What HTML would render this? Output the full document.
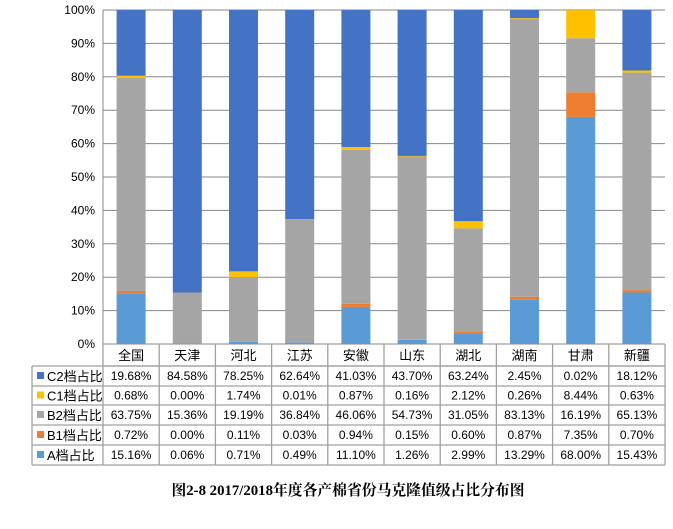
<!DOCTYPE html>
<html><head><meta charset="utf-8"><style>
body{margin:0;background:#fff;width:673px;height:524px;overflow:hidden}
svg text{font-family:"Liberation Sans","Noto Sans CJK SC",sans-serif;font-size:12px;fill:#000}
</style></head><body>
<svg id="s" width="673" height="524" xmlns="http://www.w3.org/2000/svg"></svg>
<script>
const cats=["全国","天津","河北","江苏","安徽","山东","湖北","湖南","甘肃","新疆"];
const rows=[["C2档占比","#4472C4",[19.68,84.58,78.25,62.64,41.03,43.70,63.24,2.45,0.02,18.12]],
["C1档占比","#FFC000",[0.68,0.00,1.74,0.01,0.87,0.16,2.12,0.26,8.44,0.63]],
["B2档占比","#A5A5A5",[63.75,15.36,19.19,36.84,46.06,54.73,31.05,83.13,16.19,65.13]],
["B1档占比","#ED7D31",[0.72,0.00,0.11,0.03,0.94,0.15,0.60,0.87,7.35,0.70]],
["A档占比","#5B9BD5",[15.16,0.06,0.71,0.49,11.10,1.26,2.99,13.29,68.00,15.43]]];
let h="";const L=103,R=665,T=10,B=344,cw=(R-L)/10,H=B-T;
for(let i=0;i<=10;i++){const y=B-H*i/10;h+=`<line x1="${L}" x2="${R}" y1="${y}" y2="${y}" stroke="#878787" stroke-width="1"/><text x="95" y="${y+4}" text-anchor="end">${i*10}%</text>`;}
for(let c=0;c<10;c++){let acc=0;const x=L+cw*c+cw/2-14.5;
 for(let r=4;r>=0;r--){const v=rows[r][2][c];const y0=B-H*acc/100;acc+=v;const y1=B-H*Math.min(acc,100)/100;
  h+=`<rect x="${x}" y="${y1}" width="29" height="${y0-y1}" fill="${rows[r][1]}"/>`;}
}
h+=`<line x1="${L}" x2="${L}" y1="${T}" y2="${B}" stroke="#878787"/>`;
const rt=[344,366,386,405,425,445,465];
const st='stroke="#a0a0a0" stroke-width="1.3"';
for(let c=0;c<10;c++)h+=`<text x="${L+cw*c+cw/2}" y="360" text-anchor="middle" style="font-size:13px">${cats[c]}</text>`;
for(let i=1;i<rt.length;i++)h+=`<line x1="${i==1?L:32}" x2="${R}" y1="${rt[i]}" y2="${rt[i]}" ${st}/>`;
h+=`<line x1="32" x2="${R}" y1="366" y2="366" ${st}/><line x1="32" x2="32" y1="366" y2="465" ${st}/>`;
for(let c=0;c<=10;c++)h+=`<line x1="${L+cw*c}" x2="${L+cw*c}" y1="344" y2="465" ${st}/>`;
for(let r=0;r<5;r++){const yc=(rt[r+1]+rt[r+2])/2;
 h+=`<rect x="37" y="${yc-4}" width="7" height="7" fill="${rows[r][1]}"/><text x="47" y="${yc+5}" style="font-size:13px">${rows[r][0]}</text>`;
 for(let c=0;c<10;c++)h+=`<text x="${L+cw*c+cw/2}" y="${yc+4}" text-anchor="middle">${rows[r][2][c].toFixed(2)}%</text>`;}
h+=`<text x="348" y="495" text-anchor="middle" style="font-family:'Liberation Serif','Noto Serif CJK SC',serif;font-weight:bold;font-size:14.8px">图2-8 2017/2018年度各产棉省份马克隆值级占比分布图</text>`;
document.getElementById("s").innerHTML=h;
</script>
</body></html>
